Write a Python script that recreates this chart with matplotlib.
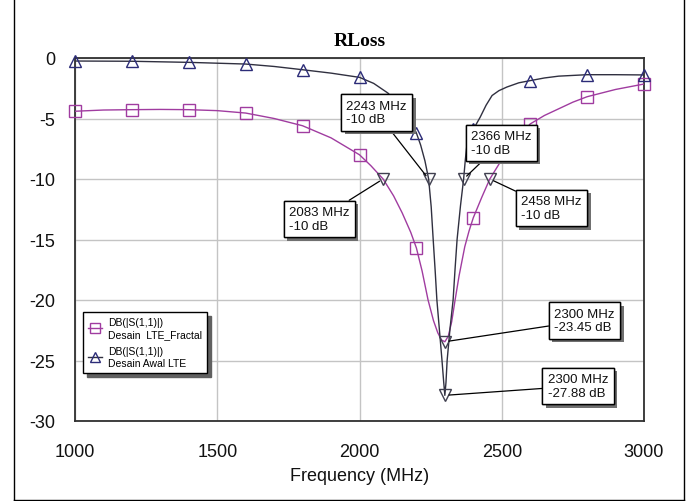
import matplotlib
matplotlib.use("Agg")
import matplotlib.pyplot as plt
from matplotlib.lines import Line2D
from matplotlib import patheffects

# ---- data ----
freq_fractal = [1000, 1100, 1200, 1300, 1400, 1500, 1600, 1700, 1800, 1900, 2000,
                2040, 2083, 2120, 2150, 2180, 2200, 2220, 2241, 2260, 2275, 2288, 2300,
                2312, 2324, 2336, 2350, 2370, 2385, 2400, 2430, 2458, 2500, 2550,
                2600, 2650, 2700, 2750, 2800, 2900, 3000]
db_fractal = [-4.4, -4.3, -4.27, -4.25, -4.27, -4.35, -4.55, -5.0, -5.6, -6.6, -8.0,
              -8.9, -10.0, -11.4, -12.8, -14.4, -15.7, -17.6, -20.0, -21.7, -22.7, -23.3, -23.45,
              -23.0, -21.8, -20.0, -18.0, -15.6, -14.3, -13.2, -11.5, -10.0, -8.4, -6.8,
              -5.45, -4.75, -4.2, -3.65, -3.2, -2.6, -2.15]

freq_awal = [1000, 1200, 1400, 1600, 1700, 1800, 1900, 2000, 2050, 2100, 2150, 2180,
             2200, 2215, 2230, 2243, 2252, 2259, 2266, 2272, 2281, 2290, 2296, 2300,
             2304, 2308, 2318, 2329, 2336, 2343, 2355, 2366, 2372, 2378, 2390, 2400,
             2424, 2445, 2466, 2490, 2518, 2560, 2600, 2650, 2700, 2800, 2900, 3000]
db_awal = [-0.25, -0.27, -0.36, -0.5, -0.7, -0.97, -1.25, -1.6, -2.1, -2.9, -4.2, -5.2,
           -6.2, -7.2, -8.5, -10.0, -12.3, -15.0, -17.6, -20.0, -22.5, -25.0, -26.8, -27.88,
           -26.8, -25.0, -22.4, -20.0, -17.4, -15.0, -12.2, -10.0, -8.4, -7.1, -6.4, -5.9,
           -4.9, -3.9, -3.1, -2.7, -2.4, -2.05, -1.87, -1.65, -1.5, -1.38, -1.38, -1.4]

marker_freq = [1000, 1200, 1400, 1600, 1800, 2000, 2200, 2400, 2600, 2800, 3000]
marker_fractal = [-4.4, -4.27, -4.27, -4.55, -5.6, -8.0, -15.7, -13.2, -5.45, -3.2, -2.15]
marker_awal = [-0.25, -0.27, -0.36, -0.5, -0.97, -1.6, -6.2, -5.9, -1.87, -1.38, -1.4]

# annotated marker points: (freq, dB)
mark_freq = [2243, 2366, 2083, 2458, 2300, 2300]
mark_db = [-10, -10, -10, -10, -23.45, -27.88]
mark_labels = ["2243 MHz\n-10 dB", "2366 MHz\n-10 dB", "2083 MHz\n-10 dB",
               "2458 MHz\n-10 dB", "2300 MHz\n-23.45 dB", "2300 MHz\n-27.88 dB"]
# box centres (freq, dB)
box_freq = [2060, 2499, 1859, 2675, 2791, 2768]
box_db = [-4.5, -7.0, -13.3, -12.4, -21.7, -27.1]

x_ticks = [1000, 1500, 2000, 2500, 3000]
y_ticks = [0, -5, -10, -15, -20, -25, -30]

title = "RLoss"
xlabel = "Frequency (MHz)"
legend_labels = ["DB(|S(1,1)|)\nDesain  LTE_Fractal", "DB(|S(1,1)|)\nDesain Awal LTE"]

# ---- style ----
SANS = ["Liberation Sans", "DejaVu Sans"]
PURPLE = "#a03ca0"
NAVY_LINE = "#303040"
NAVY_MK = "#2c2c78"

W, H = 688, 502
fig = plt.figure(figsize=(W / 100, H / 100), dpi=100)
fig.patch.set_facecolor("white")
L, R, T, B = 75, 644, 59, 422
ax = fig.add_axes([L / W, 1 - B / H, (R - L) / W, (B - T) / H])

ax.plot(freq_fractal, db_fractal, color=PURPLE, lw=1.0, zorder=3)
ax.plot(freq_awal, db_awal, color=NAVY_LINE, lw=1.0, zorder=3)
ax.plot(marker_freq, marker_fractal, ls="none", marker="s", ms=8, mfc="none",
        mec=PURPLE, mew=1.0, zorder=4, clip_on=False)
ax.plot(marker_freq, marker_awal, ls="none", marker="^", ms=8, mfc="none",
        mec=NAVY_MK, mew=1.0, zorder=4, clip_on=False)
ax.plot(mark_freq, mark_db, ls="none", marker="v", ms=8, mfc="none",
        mec="#404050", mew=1.0, zorder=5)

for mf, md, lab, bf, bd in zip(mark_freq, mark_db, mark_labels, box_freq, box_db):
    ann = ax.annotate(lab, xy=(mf, md), xytext=(bf, bd), textcoords="data",
                      ha="center", va="center", multialignment="left",
                      fontsize=9.5, family=SANS, color="#111111",
                      bbox=dict(boxstyle="square,pad=0.4", fc="white", ec="black", lw=1.0),
                      arrowprops=dict(arrowstyle="-", color="black", lw=0.9,
                                      shrinkA=0, shrinkB=3),
                      zorder=6)
    ann.get_bbox_patch().set_path_effects([
        patheffects.withSimplePatchShadow(offset=(2.5, -2.5), shadow_rgbFace="#707070", alpha=1.0),
        patheffects.Normal()])

ax.set_xlim(1000, 3000)
ax.set_ylim(-30, 0)
ax.set_xticks(x_ticks)
ax.set_yticks(y_ticks)
ax.set_xticklabels([str(v) for v in x_ticks])
ax.set_yticklabels([str(v) for v in y_ticks])
ax.tick_params(axis="both", length=0, labelsize=13)
ax.tick_params(axis="y", pad=14)
ax.tick_params(axis="x", pad=16)
for lab in ax.get_xticklabels() + ax.get_yticklabels():
    lab.set_family(SANS)
    lab.set_color("#111111")
ax.grid(True, color="#c4c4c4", lw=1.0)
ax.set_axisbelow(True)
for s in ax.spines.values():
    s.set_color("#303030")
    s.set_linewidth(1.3)

ax.set_xlabel(xlabel, fontsize=13, family=SANS, labelpad=5, color="#111111")
fig.text(359.5 / W, 1 - 42 / H, title, ha="center", va="center",
         fontsize=14, fontweight="bold", family=["Liberation Serif", "DejaVu Serif"])

handles = [Line2D([], [], color=PURPLE, lw=1.0, marker="s", ms=7, mfc="none", mec=PURPLE),
           Line2D([], [], color=NAVY_LINE, lw=1.0, marker="^", ms=7, mfc="none", mec=NAVY_MK)]
leg = ax.legend(handles, legend_labels, loc="upper left",
                bbox_to_anchor=((83 - L) / (R - L), (B - 313) / (B - T)),
                borderaxespad=0, fancybox=False, framealpha=1, edgecolor="black",
                prop=dict(family=SANS, size=7.5), handlelength=1.3, handletextpad=0.6,
                labelspacing=0.7, borderpad=0.5,
                shadow=dict(ox=3, oy=-3, color="#606060", alpha=1.0))
leg.get_frame().set_linewidth(1.0)
leg.set_zorder(7)

# outer page frame (left, right, bottom)
for line in [((13.5, 13.5), (0, 500.5)), ((683.5, 683.5), (0, 500.5)), ((13.5, 683.5), (500.5, 500.5))]:
    xs = [v / W for v in line[0]]
    ys = [1 - v / H for v in line[1]]
    fig.add_artist(Line2D(xs, ys, color="black", lw=1.0, transform=fig.transFigure))

fig.savefig("out.png", dpi=100)
